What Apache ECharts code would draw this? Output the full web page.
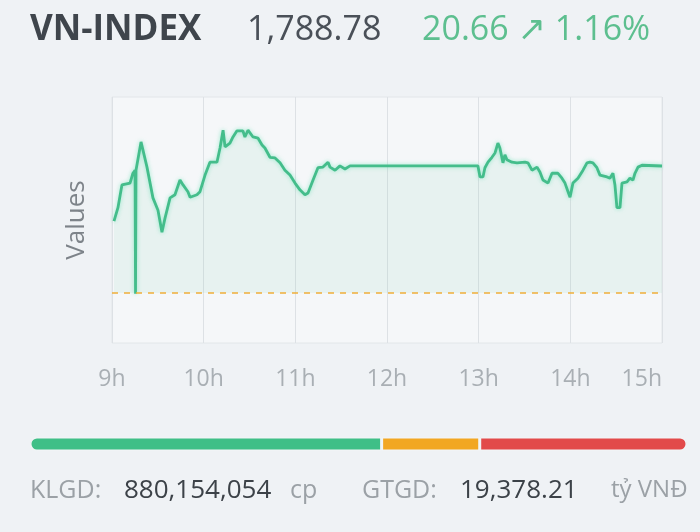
<!DOCTYPE html>
<html>
<head>
<meta charset="utf-8">
<script src="https://cdn.jsdelivr.net/npm/echarts@6/dist/echarts.min.js"></script>
<style>
  html, body { margin: 0; padding: 0; background: #eff2f5; }
  #chart { width: 700px; height: 532px; }
</style>
</head>
<body>
<div id="chart"></div>
<script>
// minutes after 9:00
const minutes = [1.3, 3.9, 6.5, 11.8, 13.7, 15.1, 15.4, 15.7, 19.0, 22.9, 26.8, 30.1, 32.7, 34.7, 38.0, 41.2, 44.5, 46.5, 49.7, 51.1, 55.6, 57.6, 60.9, 64.1, 68.7, 70.7, 72.7, 74.0, 77.2, 79.2, 81.8, 85.7, 87.0, 89.0, 92.3, 95.6, 98.2, 100.1, 103.4, 106.7, 110.0, 113.2, 116.5, 119.8, 123.0, 126.3, 128.3, 131.6, 134.8, 138.1, 141.4, 142.7, 146.0, 149.2, 152.5, 155.8, 239.5, 240.9, 242.8, 244.1, 246.1, 248.7, 250.7, 252.6, 253.9, 255.9, 257.2, 258.5, 261.8, 265.1, 270.3, 272.3, 274.9, 278.2, 280.1, 282.1, 285.4, 288.0, 291.9, 294.5, 296.5, 298.5, 299.8, 301.7, 305.0, 308.3, 310.9, 312.8, 314.8, 317.4, 319.4, 324.0, 325.9, 327.9, 329.2, 330.5, 332.5, 333.8, 337.1, 339.0, 341.0, 342.3, 344.3, 346.9, 360];
const values = [1779.8, 1782.0, 1785.7, 1786.0, 1787.6, 1788.1, 1768.0, 1788.1, 1792.7, 1788.6, 1783.6, 1781.6, 1778.0, 1780.3, 1783.6, 1784.1, 1786.5, 1785.7, 1784.6, 1783.7, 1784.1, 1784.6, 1787.3, 1789.4, 1789.4, 1791.7, 1794.6, 1791.9, 1792.5, 1793.5, 1794.5, 1794.5, 1793.5, 1794.6, 1793.5, 1793.3, 1792.2, 1791.7, 1790.2, 1790.1, 1789.3, 1788.1, 1787.3, 1786.0, 1784.9, 1784.1, 1784.4, 1786.5, 1788.5, 1788.6, 1789.4, 1788.6, 1788.1, 1788.8, 1788.3, 1788.8, 1788.8, 1787.0, 1787.0, 1788.5, 1789.4, 1790.2, 1790.9, 1792.5, 1791.7, 1789.3, 1790.6, 1789.8, 1789.4, 1789.3, 1789.4, 1789.3, 1788.1, 1788.6, 1787.8, 1786.5, 1786.0, 1787.6, 1787.6, 1786.8, 1786.0, 1784.6, 1783.7, 1786.0, 1786.8, 1788.1, 1789.3, 1789.4, 1789.3, 1788.5, 1787.3, 1787.0, 1786.8, 1787.6, 1785.7, 1782.0, 1782.0, 1786.0, 1786.2, 1786.8, 1786.5, 1787.6, 1788.6, 1788.9, 1788.78];
const refPrice = 1768.12;
const hourTicks = [9, 10, 11, 12, 13, 14, 15];
const breadthNames = ['Tăng', 'Đứng giá', 'Giảm'];
const breadthValues = [190, 53, 112];
const breadthColors = ['#3fbf87', '#f2a722', '#e24a4a'];
const headerName = 'VN-INDEX';
const headerPrice = '1,788.78';
const headerChange = '20.66 ↗ 1.16%';
const volLabel = 'KLGD:', volValue = '880,154,054', volUnit = 'cp';
const valLabel = 'GTGD:', valValue = '19,378.21', valUnit = 'tỷ VNĐ';

const FONT = "'Open Sans', 'Noto Sans', 'DejaVu Sans', sans-serif";
const lineData = minutes.map((m, i) => [m, values[i]]);
const total = breadthValues.reduce((a, b) => a + b, 0);

const chart = echarts.init(document.getElementById('chart'), null, { renderer: 'canvas' });

const breadthSeries = breadthValues.map((v, i) => ({
  type: 'bar',
  name: breadthNames[i],
  xAxisIndex: 1, yAxisIndex: 1,
  stack: 'b',
  barWidth: 14,
  data: [v],
  silent: true,
  itemStyle: {
    color: breadthColors[i],
    borderColor: '#f1f4f6',
    borderWidth: 1.5,
    borderRadius: i === 0 ? [7, 0, 0, 7] : (i === breadthValues.length - 1 ? [0, 7, 7, 0] : 0)
  }
}));

chart.setOption({
  backgroundColor: '#eff2f5',
  animation: false,
  textStyle: { fontFamily: FONT },
  grid: [
    { left: 112, right: 38, top: 97, bottom: 189, show: true, backgroundColor: '#f5f7f9', borderColor: '#e2e6e9', borderWidth: 1 },
    { left: 30, right: 13, top: 437, height: 14 }
  ],
  xAxis: [
    {
      type: 'value', gridIndex: 0, min: 0, max: 360, interval: 60,
      axisLine: { show: false }, axisTick: { show: false },
      splitLine: { show: true, lineStyle: { color: '#dde1e5', width: 1 } },
      axisLabel: {
        color: '#a9afb4', fontSize: 23, margin: 25, fontFamily: FONT,
        alignMaxLabel: 'right',
        formatter: v => hourTicks[Math.round(v / 60)] + 'h'
      }
    },
    { type: 'value', gridIndex: 1, min: 0, max: total, show: false }
  ],
  yAxis: [
    {
      type: 'value', gridIndex: 0, min: 1760, max: 1800,
      axisLabel: { show: false }, axisLine: { show: false }, axisTick: { show: false },
      splitLine: { show: false },
      name: 'Values', nameLocation: 'middle', nameGap: 22,
      nameTextStyle: { color: '#7d8389', fontSize: 26, fontFamily: FONT }
    },
    { type: 'category', gridIndex: 1, data: ['b'], show: false }
  ],
  series: [
    {
      type: 'line',
      data: lineData,
      symbol: 'none',
      silent: true,
      lineStyle: { color: '#44bd8b', width: 2.8, shadowColor: 'rgba(90,225,175,0.6)', shadowBlur: 4 },
      areaStyle: { color: 'rgba(95,205,160,0.13)', origin: refPrice },
      markLine: {
        silent: true,
        symbol: 'none',
        label: { show: false },
        lineStyle: { color: '#f0ae3a', type: [6, 6], width: 1.6 },
        data: [{ yAxis: refPrice }]
      }
    },
    ...breadthSeries
  ],
  graphic: [
    { type: 'text', left: 30, top: 13, style: { text: headerName, font: "bold 35px " + FONT, fill: '#3f454c' } },
    { type: 'text', left: 247, top: 13, style: { text: headerPrice, font: "34px " + FONT, fill: '#4a5058' } },
    { type: 'text', left: 422, top: 13, style: { text: headerChange, font: "34px " + FONT, fill: '#5dbf8f' } },
    { type: 'text', left: 30, top: 478, style: { text: volLabel, font: "25px " + FONT, fill: '#9ba1a6' } },
    { type: 'text', left: 124, top: 478, style: { text: volValue, font: "26px " + FONT, fill: '#3c4248' } },
    { type: 'text', left: 290, top: 478, style: { text: volUnit, font: "25px " + FONT, fill: '#9ba1a6' } },
    { type: 'text', left: 362, top: 478, style: { text: valLabel, font: "25px " + FONT, fill: '#9ba1a6' } },
    { type: 'text', left: 460, top: 478, style: { text: valValue, font: "26px " + FONT, fill: '#3c4248' } },
    { type: 'text', left: 611, top: 478, style: { text: valUnit, font: "24px " + FONT, fill: '#9ba1a6' } }
  ]
});
</script>
</body>
</html>
